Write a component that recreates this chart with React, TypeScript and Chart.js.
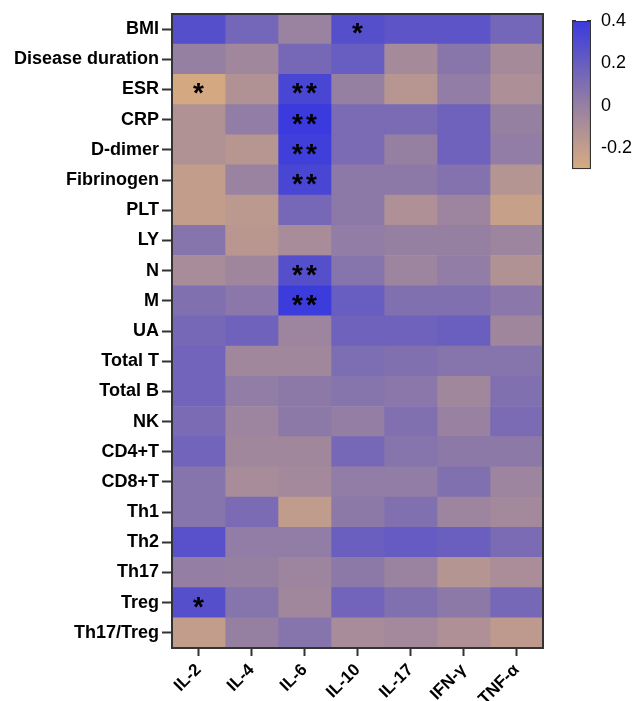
import React, { useEffect, useRef } from "react";
import { Chart, registerables } from "chart.js";
Chart.register(...registerables);

const rows = ["BMI", "Disease duration", "ESR", "CRP", "D-dimer", "Fibrinogen", "PLT", "LY", "N", "M", "UA", "Total T", "Total B", "NK", "CD4+T", "CD8+T", "Th1", "Th2", "Th17", "Treg", "Th17/Treg"];
const cols = ["IL-2", "IL-4", "IL-6", "IL-10", "IL-17", "IFN-γ", "TNF-α"];

const il2 = [0.28, 0.0, -0.28, -0.12, -0.12, -0.2, -0.2, 0.07, -0.08, 0.09, 0.14, 0.16, 0.16, 0.12, 0.16, 0.07, 0.07, 0.27, 0.01, 0.28, -0.2];
const il4 = [0.15, -0.05, -0.12, 0.02, -0.15, -0.02, -0.17, -0.16, -0.04, 0.05, 0.17, -0.05, 0.02, -0.03, -0.05, -0.08, 0.12, 0.02, 0.0, 0.07, 0.0];
const il6 = [-0.02, 0.14, 0.33, 0.4, 0.37, 0.33, 0.14, -0.08, 0.28, 0.39, -0.03, -0.05, 0.04, 0.04, -0.05, -0.06, -0.19, 0.02, -0.03, -0.05, 0.07];
const il10 = [0.28, 0.2, 0.0, 0.12, 0.12, 0.04, 0.04, 0.02, 0.07, 0.2, 0.17, 0.11, 0.07, 0.01, 0.14, 0.02, 0.04, 0.19, 0.04, 0.16, -0.08];
const il17 = [0.25, -0.07, -0.15, 0.12, 0.0, 0.04, -0.11, 0.0, -0.03, 0.09, 0.17, 0.09, 0.05, 0.09, 0.07, 0.02, 0.09, 0.21, -0.02, 0.09, -0.06];
const ifng = [0.25, 0.06, 0.02, 0.17, 0.17, 0.08, -0.03, 0.0, 0.02, 0.09, 0.19, 0.07, -0.05, -0.01, 0.04, 0.09, -0.03, 0.19, -0.14, 0.04, -0.11];
const tnfa = [0.15, -0.07, -0.1, 0.0, 0.02, -0.14, -0.22, -0.03, -0.12, 0.05, -0.04, 0.07, 0.09, 0.12, 0.04, -0.03, -0.06, 0.12, -0.09, 0.14, -0.18];
const columnValues = [il2, il4, il6, il10, il17, ifng, tnfa];

// significance marks: [row, column, mark]
const stars: [string, string, string][] = [
  ["BMI", "IL-10", "*"],
  ["ESR", "IL-2", "*"],
  ["ESR", "IL-6", "**"],
  ["CRP", "IL-6", "**"],
  ["D-dimer", "IL-6", "**"],
  ["Fibrinogen", "IL-6", "**"],
  ["N", "IL-6", "**"],
  ["M", "IL-6", "**"],
  ["Treg", "IL-2", "*"],
];

const colorbarTicks = [-0.2, 0, 0.2, 0.4];
const scaleMin = -0.3;
const scaleMax = 0.4;

const stops: [number, number[]][] = [
  [-0.3, [216, 172, 128]],
  [0, [150, 128, 162]],
  [0.4, [58, 58, 222]],
];

function colorFor(v: number): string {
  const x = Math.max(scaleMin, Math.min(scaleMax, v));
  for (let i = 0; i < stops.length - 1; i++) {
    const [a, ca] = stops[i];
    const [b, cb] = stops[i + 1];
    if (x >= a && x <= b) {
      const t = (x - a) / (b - a);
      const c = ca.map((k, j) => Math.round(k + (cb[j] - k) * t));
      return `rgb(${c[0]},${c[1]},${c[2]})`;
    }
  }
  return "rgb(150,128,162)";
}

const FONT = "'Liberation Sans', Arial, Helvetica, sans-serif";
const DARK = "#333333";

const framePlugin = {
  id: "frameAndStars",
  afterDatasetsDraw(chart: any) {
    const { ctx, chartArea, scales } = chart;
    ctx.save();
    ctx.fillStyle = "#000";
    ctx.font = `bold 28px ${FONT}`;
    ctx.textAlign = "center";
    ctx.textBaseline = "alphabetic";
    stars.forEach(([r, c, m]) => {
      const ci = cols.indexOf(c);
      const x = scales.x.getPixelForValue(ci + 0.5);
      const y = scales.y.getPixelForValue(rows.indexOf(r));
      const n = m.length;
      const gap = 14;
      for (let k = 0; k < n; k++) {
        const dx = (k - (n - 1) / 2) * gap;
        ctx.fillText("*", x + dx, y + 13);
      }
    });
    ctx.strokeStyle = DARK;
    ctx.lineWidth = 2;
    ctx.strokeRect(chartArea.left, chartArea.top, chartArea.right - chartArea.left, chartArea.bottom - chartArea.top);
    ctx.restore();
  },
};

export default function App() {
  const mainRef = useRef<HTMLCanvasElement>(null);
  const barRef = useRef<HTMLCanvasElement>(null);

  useEffect(() => {
    document.body.style.margin = "0";
    const datasets = columnValues.map((vals, c) => ({
      label: cols[c],
      data: rows.map(() => [c, c + 1]),
      backgroundColor: vals.map((v) => colorFor(v)),
      borderWidth: 0,
      barPercentage: 1,
      categoryPercentage: 1,
      grouped: false,
    }));
    const main = new Chart(mainRef.current!, {
      type: "bar",
      data: { labels: rows, datasets: datasets as any },
      plugins: [framePlugin],
      options: {
        indexAxis: "y",
        animation: false,
        responsive: false,
        layout: { padding: { top: 14, right: 96, left: 0, bottom: 0 } },
        plugins: { legend: { display: false }, tooltip: { enabled: false } },
        scales: {
          x: {
            type: "linear",
            min: 0,
            max: 7,
            afterBuildTicks: (s: any) => {
              s.ticks = cols.map((_, i) => ({ value: i + 0.5 }));
            },
            afterFit: (s: any) => {
              s.height = 53;
            },
            ticks: {
              autoSkip: false,
              minRotation: 45,
              maxRotation: 45,
              color: "#000",
              padding: 4,
              font: { family: FONT, size: 17, weight: "bold" },
              callback: (v: any) => cols[Math.floor(Number(v))],
            },
            grid: { drawOnChartArea: false, tickLength: 8, tickColor: DARK, tickWidth: 2 },
            border: { color: DARK, width: 2 },
          },
          y: {
            type: "category",
            afterFit: (s: any) => {
              s.width = 172;
            },
            ticks: {
              autoSkip: false,
              color: "#000",
              padding: 3,
              font: { family: FONT, size: 18, weight: "bold" },
            },
            grid: { offset: false, drawOnChartArea: false, tickLength: 10, tickColor: DARK, tickWidth: 2 },
            border: { color: DARK, width: 2 },
          },
        },
      } as any,
    });

    const bar = new Chart(barRef.current!, {
      type: "bar",
      data: {
        labels: [""],
        datasets: [
          {
            data: [[scaleMin, scaleMax]],
            backgroundColor: (ctx: any) => {
              const area = ctx.chart.chartArea;
              const y = ctx.chart.scales.y;
              if (!area || !y) return "rgb(150,128,162)";
              const g = ctx.chart.ctx.createLinearGradient(0, y.getPixelForValue(scaleMin), 0, y.getPixelForValue(scaleMax));
              stops.forEach(([v, c]) => {
                g.addColorStop((v - scaleMin) / (scaleMax - scaleMin), `rgb(${c[0]},${c[1]},${c[2]})`);
              });
              return g;
            },
            borderColor: DARK,
            borderWidth: 1.5,
            borderSkipped: false,
            barPercentage: 1,
            categoryPercentage: 1,
          } as any,
        ],
      },
      options: {
        animation: false,
        responsive: false,
        layout: { padding: { left: 32, top: 15, bottom: 13, right: 0 } },
        plugins: { legend: { display: false }, tooltip: { enabled: false } },
        scales: {
          x: { display: false },
          y: {
            position: "right",
            min: scaleMin,
            max: scaleMax,
            z: 1,
            afterBuildTicks: (s: any) => {
              s.ticks = colorbarTicks.map((v) => ({ value: v }));
            },
            afterFit: (s: any) => {
              s.width = 48;
            },
            ticks: {
              color: "#000",
              padding: 10,
              font: { family: FONT, size: 18 },
              callback: (v: any) => String(Math.round(Number(v) * 10) / 10),
            },
            grid: { drawTicks: false, color: DARK, lineWidth: 1.2 },
            border: { display: false, dash: [4, 11] },
          },
        },
      } as any,
    });

    return () => {
      main.destroy();
      bar.destroy();
    };
  }, []);

  return (
    <div style={{ position: "relative", width: 639, height: 701, background: "#fff" }}>
      <canvas ref={mainRef} width={639} height={701} style={{ position: "absolute", left: 0, top: 0 }} />
      <canvas ref={barRef} width={99} height={190} style={{ position: "absolute", left: 540, top: 0 }} />
    </div>
  );
}
